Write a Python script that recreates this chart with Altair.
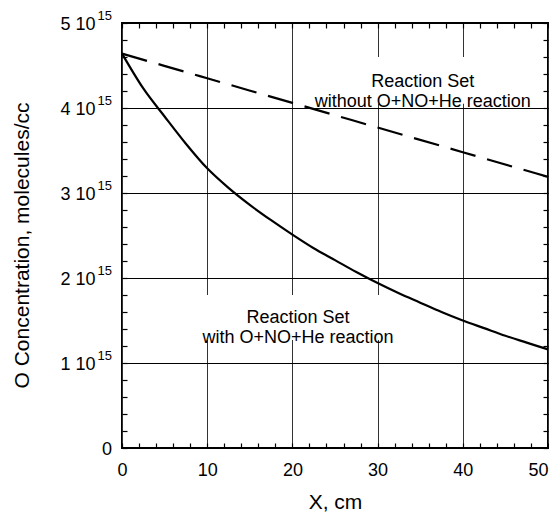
import altair as alt
import pandas as pd

# ---- data (concentration in units of 1e15 molecules/cc) ----
x_solid = [0, 2.5, 5, 7.5, 10, 12.5, 15, 17.5, 20, 22.5, 25, 27.5, 30,
           32.5, 35, 37.5, 40, 42.5, 45, 47.5, 50]
with_reaction = [4.64, 4.23, 3.90, 3.58, 3.29, 3.06, 2.86, 2.68, 2.51, 2.35,
                 2.21, 2.07, 1.94, 1.82, 1.71, 1.60, 1.50, 1.41, 1.32, 1.24, 1.16]
x_dashed = [0, 10, 20, 30, 40, 50]
without_reaction = [4.64, 4.35, 4.06, 3.77, 3.48, 3.19]

y_ticks = [1, 2, 3, 4, 5]
y_zero = [0]
x_minor = list(range(0, 51, 2))
y_minor = [i / 5 for i in range(0, 26)]

label_text = ["Reaction Set\nwithout O+NO+He reaction",
              "Reaction Set\nwith O+NO+He reaction"]

# annotation placement (layout, in data units)
label_x = [35.3, 20.66]
label_y = [4.31, 1.535]
box_x0 = [21.6, 8.6]
box_x1 = [48.8, 32.6]
box_y0 = [4.05, 1.27]
box_y1 = [4.60, 1.80]

FONT = "Liberation Sans"
W, H = 426, 425

solid_df = pd.DataFrame({"x": x_solid, "y": with_reaction})
dashed_df = pd.DataFrame({"x": x_dashed, "y": without_reaction})
box_df = pd.DataFrame({"x": box_x0, "x1": box_x1, "y": box_y0, "y1": box_y1})
lab_df = pd.DataFrame({"x": label_x, "y": label_y, "t": label_text})
sup_df = pd.DataFrame({"y": y_ticks, "t": ["15"] * len(y_ticks)})
zero_df = pd.DataFrame({"y": y_zero, "t": ["0"]})

xs = alt.Scale(domain=[0, 50], nice=False, zero=False)
ys = alt.Scale(domain=[0, 5], nice=False, zero=False)

main_x = alt.Axis(orient="bottom", values=x_minor, offset=-5,
                  grid=True, gridColor="#333333", gridWidth=1,
                  gridOpacity=alt.condition("datum.value % 10 == 0",
                                            alt.value(1), alt.value(0)),
                  ticks=True, tickSize=5, tickColor="black", tickWidth=1.2,
                  domain=False,
                  labelFont=FONT, labelColor="black", labelOverlap=False,
                  labelFlush=False, labelFontSize=18, labelPadding=27,
                  labelBaseline="alphabetic", labelAngle=0,
                  labelExpr="datum.value % 10 == 0 ? datum.label : ''",
                  labelAlign=alt.condition("datum.value == 50",
                                           alt.value("right"),
                                           alt.value("center")),
                  title="X, cm", titleFont=FONT, titleFontSize=21,
                  titleFontWeight="normal", titleColor="black",
                  titleX=213, titleY=65, titleBaseline="alphabetic",
                  titleAlign="center")
yA = alt.Axis(orient="left", values=y_minor, offset=-5,
              grid=True, gridColor="black", gridWidth=1,
              gridOpacity=alt.condition("datum.value % 1 == 0",
                                        alt.value(1), alt.value(0)),
              ticks=True, tickSize=5, tickColor="black", tickWidth=1.2,
              domain=False,
              labelFont=FONT, labelColor="black", labelOverlap=False,
              labelFlush=False,
              labelExpr="datum.value % 1 == 0 && datum.value > 0 ? "
                        "datum.value + ' 10' : ''",
              labelFontSize=18, labelPadding=27, labelBaseline="alphabetic",
              labelOffset=6, labelAlign="right",
              title="O Concentration, molecules/cc", titleFont=FONT,
              titleFontSize=21, titleFontWeight="normal", titleColor="black",
              titleX=-99, titleY=222, titleAngle=270,
              titleBaseline="alphabetic", titleAlign="center")


def minor(orient, vals):
    return alt.Axis(orient=orient, values=vals, labels=False, ticks=True,
                    tickSize=5, tickColor="black", tickWidth=1.2, offset=-5,
                    domain=False, grid=False, title=None)


X = lambda f: alt.X(f, scale=xs, axis=None)
Y = lambda f: alt.Y(f, scale=ys, axis=None)

boxes = alt.Chart(box_df).mark_rect(color="white").encode(
    x=alt.X("x:Q", scale=xs, axis=main_x),
    x2="x1:Q",
    y=alt.Y("y:Q", scale=ys, axis=yA),
    y2="y1:Q")

solid = alt.Chart(solid_df).mark_line(color="black", strokeWidth=2.2,
                                      interpolate="monotone").encode(
    x=alt.X("x:Q", scale=xs, axis=minor("top", x_minor)),
    y=alt.Y("y:Q", scale=ys, axis=minor("right", y_minor)))

dashed = alt.Chart(dashed_df).mark_line(color="black", strokeWidth=2.2,
                                        strokeDash=[26, 12],
                                        interpolate="monotone").encode(
    x=X("x:Q"), y=Y("y:Q"))

labels = alt.Chart(lab_df).mark_text(
    font=FONT, fontSize=18, lineBreak="\n", lineHeight=20,
    align="center", baseline="middle", color="black").encode(
    x=X("x:Q"), y=Y("y:Q"), text="t:N")

sup = alt.Chart(sup_df).mark_text(
    font=FONT, fontSize=13, align="right", baseline="alphabetic",
    dy=-3, color="black").encode(
    y=Y("y:Q"), x=alt.value(-10), text="t:N")
zero = alt.Chart(zero_df).mark_text(
    font=FONT, fontSize=18, align="right", baseline="alphabetic",
    dy=7, color="black").encode(
    y=Y("y:Q"), x=alt.value(-10), text="t:N")

chart = alt.layer(boxes, solid, dashed, labels, sup, zero
).resolve_axis(x="independent", y="independent").properties(
    width=W, height=H,
    autosize=alt.AutoSizeParams(type="none"),
    padding={"left": 114, "top": 15, "right": 1, "bottom": 64},
).configure(font=FONT).configure_view(stroke="black", strokeWidth=2)

chart.save("out.html", embed_options={"renderer": "svg", "actions": False})
